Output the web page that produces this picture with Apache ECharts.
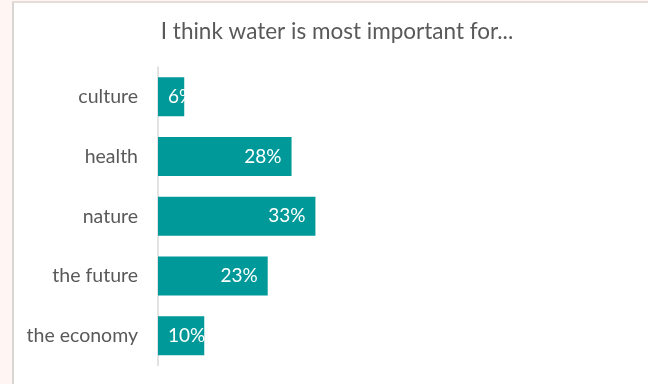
<!DOCTYPE html>
<html><head><meta charset="utf-8">
<script src="https://cdn.jsdelivr.net/npm/echarts@6/dist/echarts.min.js"></script>
<style>
html,body{margin:0;padding:0;background:#fff5f2;}
#frame{position:absolute;left:12px;top:1px;width:640px;height:390px;background:#fff;border-left:2px solid #d9d6d4;border-top:2px solid #e6dcd8;}
#c{position:absolute;left:0;top:0;width:648px;height:384px;}
</style></head>
<body>
<div id="frame"></div>
<div id="c"></div>
<script>
const title = 'I think water is most important for...';
const categories = ['culture', 'health', 'nature', 'the future', 'the economy'];
const values = [5.5, 28, 33, 23, 9.7];
const labels = ['6%', '28%', '33%', '23%', '10%'];

const chart = echarts.init(document.getElementById('c'), null, {renderer: 'canvas'});
const font = 'Lato, "Open Sans", sans-serif';
chart.setOption({
  backgroundColor: 'transparent',
  animation: false,
  title: {
    text: title, left: 332, top: 15, textAlign: 'center',
    textStyle: {color: '#595959', fontSize: 22.5, fontWeight: 'normal', fontFamily: font}
  },
  grid: {left: 158, top: 67, width: 477, height: 298.5, containLabel: false},
  xAxis: {type: 'value', min: 0, max: 100, show: false},
  yAxis: {
    type: 'category', data: categories, inverse: true,
    axisLine: {show: true, lineStyle: {color: '#d9d9d9', width: 1.5}},
    axisTick: {show: false},
    axisLabel: {color: '#595959', fontSize: 19.5, fontFamily: font, margin: 20}
  },
  series: [{
    type: 'bar', barWidth: 39,
    itemStyle: {color: '#009999'},
    data: values.map((v, i) => ({
      value: v,
      label: {position: v < 15 ? 'insideLeft' : 'insideRight'}
    })),
    label: {
      show: true, color: '#ffffff', fontSize: 19, fontFamily: font, distance: 10,
      formatter: p => labels[p.dataIndex]
    }
  }]
});
</script>
</body></html>
